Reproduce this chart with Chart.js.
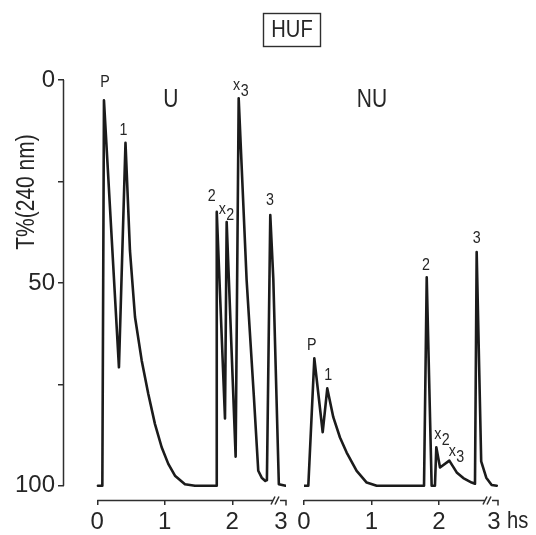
<!DOCTYPE html>
<html>
<head>
<meta charset="utf-8">
<title>HUF</title>
<script src="https://cdn.jsdelivr.net/npm/chart.js@4"></script>
<style>
  html, body { margin: 0; padding: 0; background: #ffffff; }
  #wrap { position: relative; width: 536px; height: 535px; overflow: hidden; }
  #wrap canvas { position: absolute; left: 0; top: 0; }
</style>
</head>
<body>
<div id="wrap">
  <canvas id="panelU" width="536" height="535"></canvas>
  <canvas id="panelNU" width="536" height="535"></canvas>
</div>
<script>
// Retention time (hs) and transmittance T% at 240 nm, panel U
const uTime = [0.01, 0.075, 0.099, 0.321, 0.418, 0.484, 0.559, 0.658, 0.756, 0.855, 0.954, 1.052, 1.151, 1.299, 1.447,
               1.765, 1.77, 1.892, 1.917, 2.05, 2.095, 2.213, 2.32, 2.385, 2.436, 2.49, 2.513, 2.563, 2.608, 2.69, 2.79];
const uT    = [100, 100, 5, 70.8, 15.5, 42, 58.4, 69.1, 77.4, 84.8, 90.5, 94.6, 97.5, 99.6, 100,
               100, 32.5, 83.4, 35, 92.8, 4.5, 49.4, 78, 96.3, 98, 98.8, 98.6, 33.3, 49, 99.6, 100];

// Retention time (hs) and transmittance T% at 240 nm, panel NU
const nuTime = [0, 0.064, 0.153, 0.277, 0.345, 0.434, 0.533, 0.632, 0.78, 0.929, 1.077, 1.778, 1.818, 1.891,
                1.94, 1.96, 2.015, 2.153, 2.262, 2.36, 2.484, 2.533, 2.558, 2.625, 2.70, 2.78, 2.855];
const nuT    = [100, 100, 68.6, 86.8, 76, 83.1, 88.1, 91.8, 96.3, 99.2, 100, 100, 48.6, 100,
                100, 90.5, 95.5, 93.8, 96.7, 98.1, 99.2, 99.5, 42.4, 94, 98, 99.8, 100];

// Axis ticks
const yTicks = [0, 25, 50, 75, 100];
const yTickLabels = ['0', '', '50', '', '100'];
const xTickLabels = ['0', '1', '2', '3'];
const uXTicks = [0, 1, 2, 2.72];
const nuXTicks = [0, 1, 2, 2.815];

// Peak and panel labels (time, T%)
const uLabelText = ['P', '1', 'U', '2', 'x2', 'x3', '3'];
const uLabelTime = [0.114, 0.388, 1.09, 1.695, 1.852, 2.065, 2.559];
const uLabelT    = [0.5, 12.3, 4.9, 28.7, 31.8, 1.2, 29.6];

const nuLabelText = ['NU', 'P', '1', '2', 'x2', 'x3', '3'];
const nuLabelTime = [1.007, 0.114, 0.36, 1.807, 1.981, 2.197, 2.558];
const nuLabelT    = [4.9, 65.3, 72.8, 45.7, 87.4, 91.5, 39];

const FONT = "'Liberation Sans', 'Arial', sans-serif";
const INK = '#1b1b1b';
const AXIS = '#2e2e2e';
const TEXT = '#262626';

// narrow lettering: text squeezed horizontally around its anchor
function narrowText(ctx, text, x, y, size, align) {
  ctx.save();
  ctx.font = size + 'px ' + FONT;
  ctx.textAlign = align || 'center';
  ctx.textBaseline = 'middle';
  ctx.translate(x, y);
  ctx.scale(0.84, 1);
  ctx.fillText(text, 0, 0);
  ctx.restore();
}

// Axis lines, break marks and annotations drawn on top of each panel
const panelDecor = {
  id: 'panelDecor',
  afterDraw(chart, args, opts) {
    const ctx = chart.ctx;
    const xs = chart.scales.x, ys = chart.scales.y;
    const ca = chart.chartArea;
    ctx.save();
    ctx.strokeStyle = AXIS;
    ctx.lineWidth = 1.5;
    ctx.lineCap = 'butt';
    ctx.fillStyle = TEXT;

    // time axis, broken before its end
    const yA = Math.round(ca.bottom) + 0.5;
    const x0 = xs.getPixelForValue(0);
    const x1 = xs.getPixelForValue(xs.max);
    const bx = x1 - 10;
    ctx.beginPath();
    ctx.moveTo(x0, yA); ctx.lineTo(bx - 3, yA);
    ctx.moveTo(bx + 4, yA); ctx.lineTo(x1, yA); ctx.lineTo(x1, yA + 5);
    ctx.moveTo(bx - 5, yA + 4); ctx.lineTo(bx - 1, yA - 4);
    ctx.moveTo(bx - 1, yA + 4); ctx.lineTo(bx + 3, yA - 4);
    ctx.stroke();

    if (opts.yAxis) {
      const xl = Math.round(ca.left) - 0.5;
      ctx.beginPath();
      ctx.moveTo(xl, ys.getPixelForValue(yTicks[0]));
      ctx.lineTo(xl, ys.getPixelForValue(yTicks[yTicks.length - 1]));
      ctx.stroke();

      // axis title
      ctx.save();
      ctx.translate(27, 192);
      ctx.rotate(-Math.PI / 2);
      narrowText(ctx, 'T%(240 nm)', 0, 0, 25);
      ctx.restore();

      // boxed heading
      ctx.lineWidth = 1.4;
      ctx.strokeRect(263.5, 13.5, 57, 33);
      narrowText(ctx, 'HUF', 292, 30, 24);
    }

    if (opts.unit) {
      narrowText(ctx, opts.unit, x1 + 9, ca.bottom + 21, 24, 'left');
    }

    // peak and panel labels
    const L = opts.labels;
    for (let i = 0; i < L.text.length; i++) {
      const t = L.text[i];
      const px = xs.getPixelForValue(L.time[i]);
      const py = ys.getPixelForValue(L.value[i]);
      if (t.length === 2 && t[0] === 'x') {
        narrowText(ctx, 'x', px, py, 17);
        narrowText(ctx, t[1], px + 8, py + 6, 17);
      } else if (t === 'U' || t === 'NU') {
        narrowText(ctx, t, px, py, 25);
      } else {
        narrowText(ctx, t, px, py, 17);
      }
    }
    ctx.restore();
  }
};

function makePanel(id, times, values, cfg) {
  return new Chart(document.getElementById(id), {
    type: 'line',
    data: {
      datasets: [{
        data: times.map((t, i) => ({ x: t, y: values[i] })),
        borderColor: INK,
        borderWidth: 2.6,
        pointRadius: 0,
        tension: 0,
        fill: false,
        borderJoinStyle: 'round',
        borderCapStyle: 'round'
      }]
    },
    options: {
      responsive: false,
      animation: false,
      devicePixelRatio: 1,
      layout: { padding: cfg.padding },
      plugins: {
        legend: { display: false },
        tooltip: { enabled: false },
        title: { display: false },
        panelDecor: cfg.decor
      },
      scales: {
        x: {
          type: 'linear',
          min: cfg.xMin,
          max: cfg.xMax,
          afterBuildTicks: s => { s.ticks = cfg.xTicks.map(v => ({ value: v })); },
          afterFit: s => { s.height = 35; },
          border: { display: false },
          grid: {
            drawOnChartArea: false,
            drawTicks: true,
            tickLength: 5,
            lineWidth: 1.5,
            color: c => (c.index === cfg.xTicks.length - 1 ? 'rgba(0,0,0,0)' : AXIS)
          },
          ticks: {
            autoSkip: false,
            maxRotation: 0,
            padding: 3,
            color: TEXT,
            font: { family: FONT, size: 24 },
            callback: (v, i) => xTickLabels[i]
          }
        },
        y: {
          type: 'linear',
          display: cfg.showY,
          reverse: true,
          min: 0,
          max: 103.5,
          afterBuildTicks: s => { s.ticks = yTicks.map(v => ({ value: v })); },
          afterFit: s => { s.width = cfg.showY ? 64 : 0; },
          border: { display: false },
          grid: {
            drawOnChartArea: false,
            drawTicks: true,
            tickLength: 6,
            lineWidth: 1.5,
            color: AXIS
          },
          ticks: {
            autoSkip: false,
            padding: 3,
            color: TEXT,
            font: { family: FONT, size: 24 },
            callback: (v, i) => yTickLabels[i]
          }
        }
      }
    },
    plugins: [panelDecor]
  });
}

makePanel('panelU', uTime, uT, {
  padding: { left: 0, top: 80, right: 250, bottom: 0 },
  xMin: -0.493, xMax: 2.796, xTicks: uXTicks, showY: true,
  decor: { yAxis: true, labels: { text: uLabelText, time: uLabelTime, value: uLabelT } }
});

makePanel('panelNU', nuTime, nuT, {
  padding: { left: 304, top: 80, right: 38, bottom: 0 },
  xMin: 0, xMax: 2.874, xTicks: nuXTicks, showY: false,
  decor: { yAxis: false, unit: 'hs', labels: { text: nuLabelText, time: nuLabelTime, value: nuLabelT } }
});
</script>
</body>
</html>
